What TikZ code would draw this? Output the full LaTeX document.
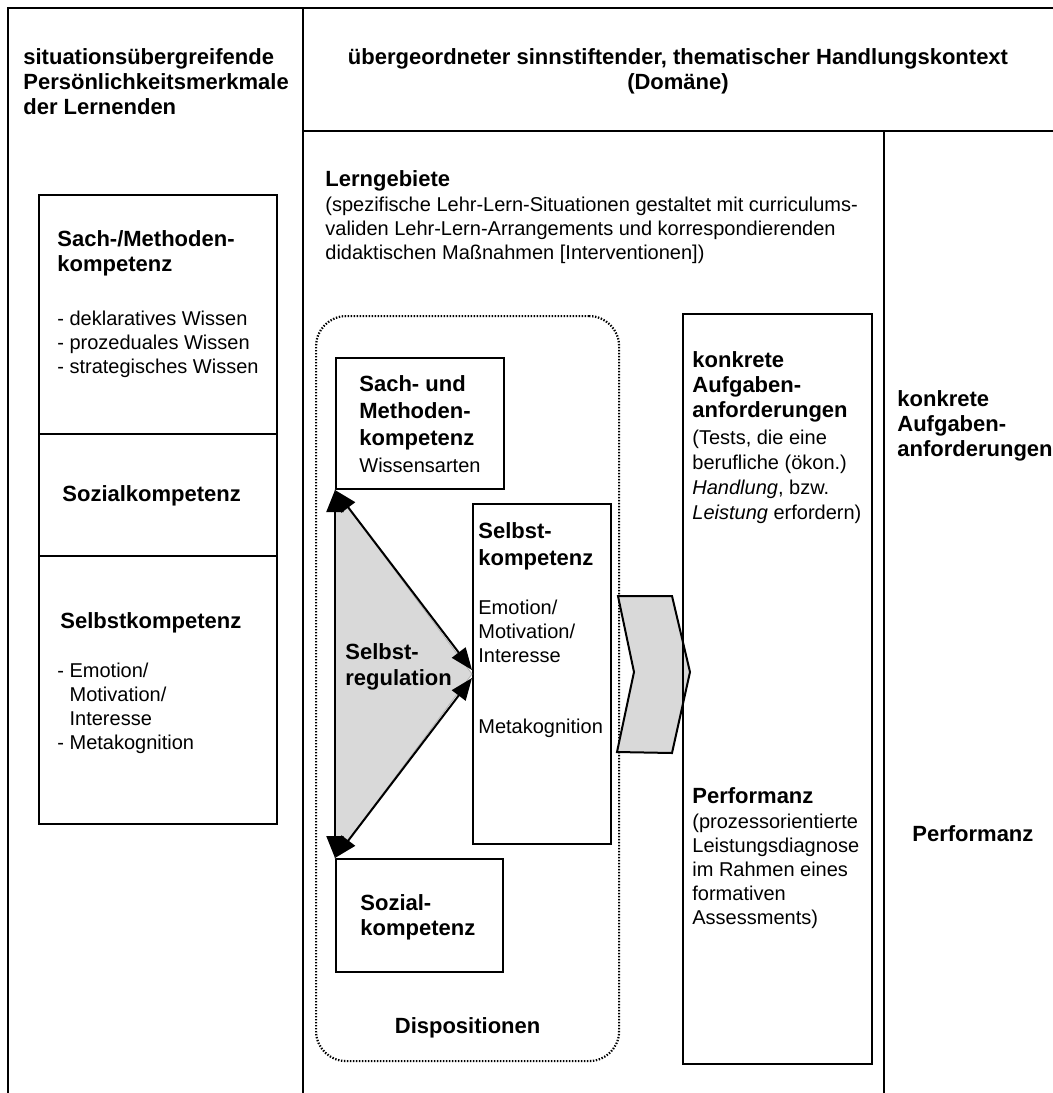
\documentclass[tikz,border=0pt]{standalone}
\usepackage{fontspec}
\setmainfont{Liberation Sans}
\usetikzlibrary{positioning, arrows.meta}

\begin{document}
\begin{tikzpicture}[x=0.5pt, y=-0.5pt,
	frame/.style={line width=1pt},
	box/.style={draw, rectangle, line width=1pt, inner sep=0pt, anchor=north west},
	ttl/.style={font=\fontsize{11}{12.5}\selectfont\bfseries, align=left, inner sep=0pt, anchor=north west},
	txt/.style={font=\fontsize{10}{12}\selectfont, align=left, inner sep=0pt, anchor=north west},
	dbl/.style={line width=1pt, {Triangle[length=11pt,width=8.5pt]}-{Triangle[length=11pt,width=8.5pt]}}
	]
	\useasboundingbox (0,0) rectangle (1053,1093);
	% outer frame
	\draw[frame] (8,1093) -- (8,8) -- (1053,8);
	\draw[frame] (303,8) -- (303,1093);
	\draw[frame] (303,131) -- (1053,131);
	\draw[frame] (884,131) -- (884,1093);
	\node[ttl] (pers) at (23,48) {situationsübergreifende\\Persönlichkeitsmerkmale\\der Lernenden};
	\node[ttl, align=center, anchor=north] (dom) at (678,48) {übergeordneter sinnstiftender, thematischer Handlungskontext\\(Domäne)};

	% left column
	\node[box, minimum width=119pt, minimum height=119.5pt] (lsach) at (38,194) {};
	\node[box, minimum width=119pt, minimum height=61pt] (lsoz) at (38,433) {};
	\node[box, minimum width=119pt, minimum height=134pt] (lselbst) at (38,555) {};
	\node[ttl, below right=18pt and 9.5pt of lsach.north west] (lsachttl) {Sach-/Methoden-\\kompetenz};
	\node[txt, below right=58.5pt and 9.5pt of lsach.north west] (lsachlist) {- deklaratives Wissen\\- prozeduales Wissen\\- strategisches Wissen};
	\node[ttl, below right=26pt and 12pt of lsoz.north west] (lsozttl) {Sozialkompetenz};
	\node[ttl, below right=28.5pt and 11pt of lselbst.north west] (lselbstttl) {Selbstkompetenz};
	\node[txt, below right=54pt and 9.5pt of lselbst.north west] (lselbstlist) {- Emotion/\\\phantom{- }Motivation/\\\phantom{- }Interesse\\- Metakognition};

	% middle column
	\node[ttl] (lg) at (325,170) {Lerngebiete};
	\node[txt, below=2.5pt of lg.south west, anchor=north west] (lgtext) {(spezifische Lehr-Lern-Situationen gestaltet mit curriculums-\\validen Lehr-Lern-Arrangements und korrespondierenden\\didaktischen Maßnahmen [Interventionen])};
	\node[draw, line width=1.1pt, dash pattern=on 0.7pt off 0.8pt, rounded corners=15pt, minimum width=151.5pt, minimum height=372.5pt, anchor=north west] (dispo) at (315,315) {};
	\node[ttl, above=12pt of dispo.south, anchor=south] (disptxt) {Dispositionen};

	\node[box, minimum width=84pt, minimum height=65.5pt] (smbox) at (335,357) {};
	\node[box, minimum width=69pt, minimum height=170pt] (selbst) at (472,503) {};
	\node[box, minimum width=83.5pt, minimum height=56.5pt] (soz) at (335,858) {};
	\node[ttl, font=\fontsize{11}{13.5}\selectfont\bfseries, below right=9pt and 12pt of smbox.north west] (smtxt) {Sach- und\\Methoden-\\kompetenz\\{\mdseries\fontsize{10}{12}\selectfont Wissensarten}};
	\node[ttl, font=\fontsize{11}{13.5}\selectfont\bfseries, below right=9.5pt and 3pt of selbst.north west] (selbstttl) {Selbst-\\kompetenz};
	\node[txt, below right=48.5pt and 3pt of selbst.north west] (selbstlist) {Emotion/\\Motivation/\\Interesse\\[23.5pt]Metakognition};
	\node[ttl, below right=18pt and 12.5pt of soz.north west] (soztxt) {Sozial-\\kompetenz};

	% Selbstregulation
	\fill[black!15, draw=black!30] (smbox.south west) -- (selbst.west) -- (soz.north west) -- cycle;
	\node[ttl, font=\fontsize{11}{13}\selectfont\bfseries] (sreg) at (345,643) {Selbst-\\regulation};
	\draw[dbl] (smbox.south west) -- (soz.north west);
	\draw[dbl] (smbox.south west) -- ([yshift=2pt]selbst.west);
	\draw[dbl] ([yshift=-2pt]selbst.west) -- (soz.north west);

	% chevron
	\filldraw[fill=black!15, line width=1pt] (618,596) -- (672,596) -- (690,672) -- (672,753) -- (617,752) -- (634,672) -- cycle;

	% task box
	\node[box, minimum width=94.5pt, minimum height=375pt] (aufg) at (682,313) {};
	\node[ttl, below right=19pt and 5pt of aufg.north west] (aufgttl) {konkrete\\Aufgaben-\\anforderungen};
	\node[txt, font=\fontsize{10}{12.5}\selectfont, below right=58.5pt and 5pt of aufg.north west] (aufgtxt) {(Tests, die eine\\berufliche (ökon.)\\\textit{Handlung}, bzw.\\\textit{Leistung} erfordern)};
	\node[ttl, below right=237pt and 5pt of aufg.north west] (perfttl) {Performanz};
	\node[txt, below right=250.5pt and 5pt of aufg.north west] (perftxt) {(prozessorientierte\\Leistungsdiagnose\\im Rahmen eines\\formativen\\Assessments)};

	% right column
	\node[ttl] (rk) at (897,390) {konkrete\\Aufgaben-\\anforderungen};
	\node[ttl] (rp) at (912,825) {Performanz};
\end{tikzpicture}
\end{document}
